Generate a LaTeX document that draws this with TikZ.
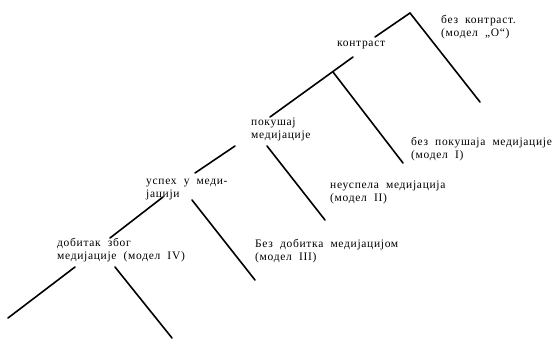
\documentclass[tikz,border=0pt]{standalone}
\usepackage{fontspec}
\setmainfont{Liberation Serif}[LetterSpace=6,WordSpace=2]
\begin{document}
\begin{tikzpicture}[x=1pt,y=-1pt,
  lbl/.style={anchor=north west,inner sep=0pt,align=left,
    font=\fontsize{11.5}{12.8}\selectfont},
  branch/.style={line width=1.6pt,line cap=round}]
\useasboundingbox (0,0) rectangle (556,341);
% labels
\node[lbl] (t0) at (441,15) {без контраст.\\(модел „О“)};
\node[lbl] (t1) at (337,41) {контраст};
\node[lbl] (t2) at (411,137) {без покушаја медијације\\(модел I)};
\node[lbl] (t3) at (251,118) {покушај\\медијације};
\node[lbl] (t4) at (330,181) {неуспела медијација\\(модел II)};
\node[lbl] (t5) at (146,179) {успех у меди-\\јацији};
\node[lbl] (t6) at (255,239) {Без добитка медијацијом\\(модел III)};
\node[lbl] (t7) at (57,238) {добитак због\\медијације (модел IV)};
% tree points
\coordinate (apex) at (410,13);
\coordinate (a1) at (480,102);
\coordinate (a2) at (375,37);
\coordinate (b1) at (353,57);
\coordinate (b2) at (270,117);
\coordinate (c0) at (333,72);
\coordinate (c1) at (403,163);
\coordinate (d1) at (235,146);
\coordinate (d2) at (195,173);
\coordinate (e1) at (267,146);
\coordinate (e2) at (325,220);
\coordinate (f1) at (163,197);
\coordinate (f2) at (110,238);
\coordinate (g1) at (192,200);
\coordinate (g2) at (255,280);
\coordinate (h1) at (75,267);
\coordinate (h2) at (8,318);
\coordinate (k1) at (115,267);
\coordinate (k2) at (172,338);
% branches
\draw[branch] (apex) -- (a1);
\draw[branch] (apex) -- (a2);
\draw[branch] (b1) -- (b2);
\draw[branch] (c0) -- (c1);
\draw[branch] (d1) -- (d2);
\draw[branch] (e1) -- (e2);
\draw[branch] (f1) -- (f2);
\draw[branch] (g1) -- (g2);
\draw[branch] (h1) -- (h2);
\draw[branch] (k1) -- (k2);
\end{tikzpicture}
\end{document}
